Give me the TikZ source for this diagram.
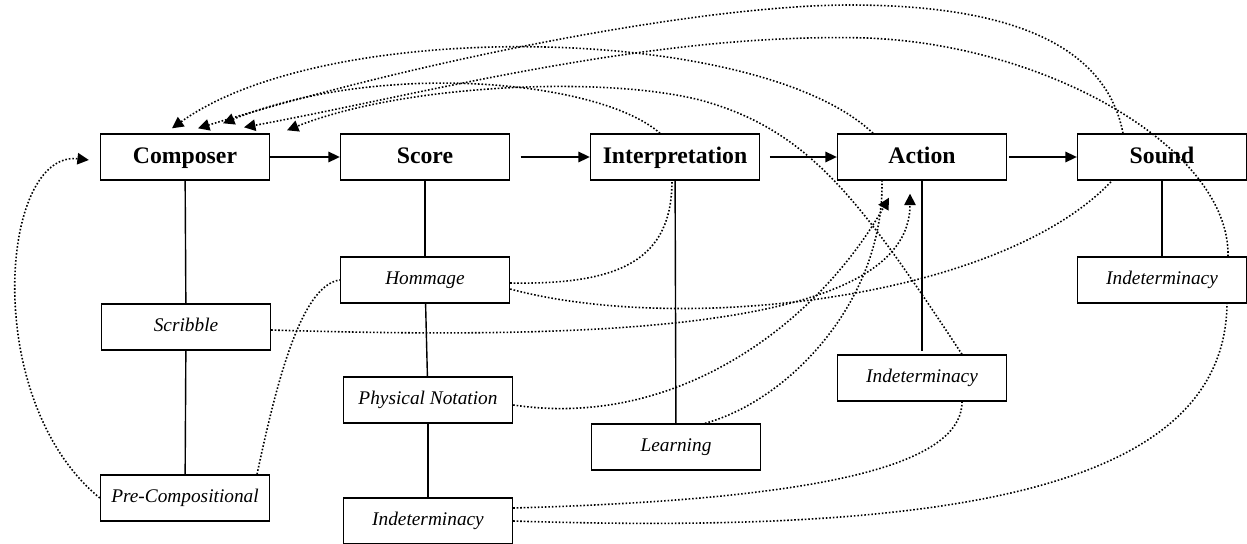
\documentclass[tikz,border=0pt]{standalone}
\usepackage{fontspec}
\setmainfont{Liberation Serif}
\usetikzlibrary{arrows.meta,calc}

\begin{document}
\begin{tikzpicture}[
    x=0.02cm, y=-0.02cm,
    stagebox/.style={draw, line width=0.8pt, minimum width=3.38cm, minimum height=0.92cm, text height=9.5pt, text depth=2.5pt, font=\fontsize{13.5}{15}\selectfont\bfseries},
    aspectbox/.style={draw, line width=0.8pt, minimum width=3.38cm, minimum height=0.92cm, text height=8pt, text depth=2.5pt, font=\fontsize{11}{13}\selectfont\itshape},
    flow/.style={line width=0.8pt, -{Triangle[length=6.5pt,width=6pt]}},
    tie/.style={line width=0.8pt},
    influence/.style={line width=0.9pt, dash pattern=on 0.9pt off 1.1pt},
    feedback/.style={influence, -{Triangle[length=6.5pt,width=6.5pt]}}
]
\useasboundingbox (0,0) rectangle (1247,544);

% main chain
\foreach \name/\x/\txt in {comp/185/Composer, score/425/Score, interp/675/Interpretation, action/922/Action, sound/1162/Sound}
  \node[stagebox] (\name) at (\x,157) {\txt};

% aspects under each stage
\node[aspectbox] (scribble) at (186,327) {Scribble};
\node[aspectbox] (precomp)  at (185,498) {Pre-Compositional};
\node[aspectbox] (hommage)  at (425,280) {Hommage};
\node[aspectbox] (physnot)  at (428,400) {Physical Notation};
\node[aspectbox] (scoreind) at (428,521) {Indeterminacy};
\node[aspectbox] (learning) at (676,447) {Learning};
\node[aspectbox] (actind)   at (922,378) {Indeterminacy};
\node[aspectbox] (soundind) at (1162,280) {Indeterminacy};

\foreach \a/\b/\gap in {comp/score/0pt, score/interp/6pt, interp/action/5.5pt, action/sound/1pt}
  \draw[flow, shorten <=\gap] (\a) -- (\b);

\foreach \a/\b in {comp/scribble, scribble/precomp, score/hommage, hommage/physnot, physnot/scoreind, interp/learning, sound/soundind}
  \draw[tie] (\a) -- (\b);
\draw[tie, shorten >=2pt] (action) -- (actind);

% back to the composer
\draw[feedback] (precomp.west) .. controls (-20,400) and (0,150) .. ($(comp.west)+(-11,3)$);
\draw[feedback] ($(action.north)+(-49,0)$) .. controls (760,25) and (330,15) .. ($(comp.north)+(-13,-5)$);
\draw[feedback] ($(sound.north)+(-39,0)$) .. controls (1105,40) and (1000,5) .. (850,5)
  .. controls (700,5) and (420,60) .. ($(comp.north)+(13,-5)$);
\draw[feedback] ($(interp.north)+(-15,0)$) .. controls (600,80) and (380,60) .. ($(comp.north)+(38,-10)$);
\draw[feedback] ($(soundind.north)+(66,0)$) .. controls (1230,150) and (1050,45) .. (867,38)
  .. controls (650,32) and (420,95) .. ($(comp.north)+(59,-6)$);
\draw[feedback] ($(actind.north)+(40,0)$) .. controls (860,200) and (810,130) .. (700,100)
  .. controls (600,75) and (400,85) .. ($(comp.north)+(102,-3)$);

% into the action
\draw[feedback] ($(scribble.east)+(0,3)$) .. controls (600,340) and (910,330) .. ($(action.south)+(-12,13)$);
\draw[feedback] ($(physnot.east)+(0,5)$) .. controls (680,430) and (820,320) .. ($(action.south)+(-33,17)$);
\draw[influence] ($(learning.north)+(29,0)$) .. controls (790,400) and (884,300) .. ($(action.south)+(-40,0)$);

% other links
\draw[influence] ($(hommage.east)+(0,3)$) .. controls (620,285) and (672,260) .. ($(interp.south)+(-3,0)$);
\draw[influence] ($(hommage.east)+(0,9)$) .. controls (680,335) and (1000,300) .. ($(sound.south)+(-50,0)$);
\draw[influence] ($(scoreind.east)+(0,-13)$) .. controls (800,500) and (962,470) .. ($(actind.south)+(40,0)$);
\draw[influence] (scoreind.east) .. controls (950,535) and (1225,490) .. ($(soundind.south)+(65,0)$);
\draw[influence] ($(precomp.north)+(72,0)$) .. controls (275,390) and (300,285) .. (hommage.west);

\end{tikzpicture}
\end{document}
